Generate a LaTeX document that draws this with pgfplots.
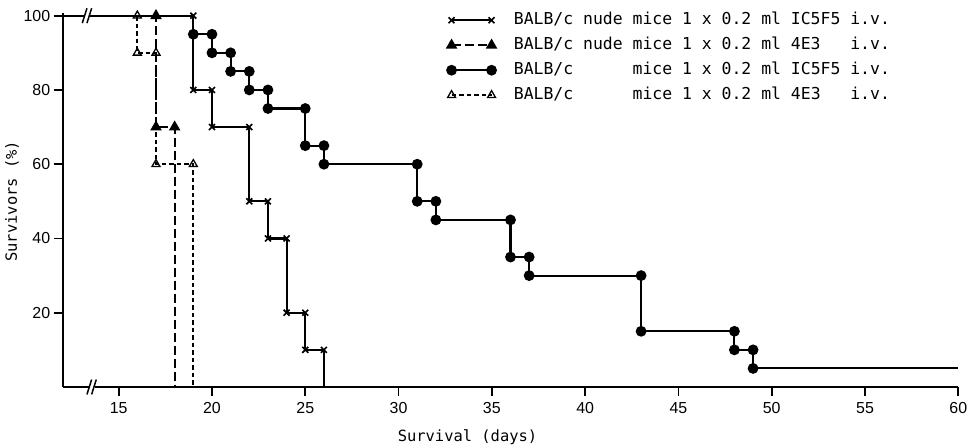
\documentclass[border=0pt]{standalone}
\usepackage{fontspec}
\setmainfont{Liberation Sans}
\newfontfamily\plotmono{DejaVu Sans Mono}
\usepackage{pgfplots}
\pgfplotsset{compat=1.18}

% survival curves: corner points of each Kaplan-Meier step line
\pgfplotstableread{
x y
12 100
19 100
19 80
20 80
20 70
22 70
22 50
23 50
23 40
24 40
24 20
25 20
25 10
26 10
26 0
}\nudeICF

\pgfplotstableread{
x y
12 100
17 100
17 70
18 70
18 0
}\nudeFourE

\pgfplotstableread{
x y
12 100
19 100
19 95
20 95
20 90
21 90
21 85
22 85
22 80
23 80
23 75
25 75
25 65
26 65
26 60
31 60
31 50
32 50
32 45
36 45
36 35
37 35
37 30
43 30
43 15
48 15
48 10
49 10
49 5
60 5
}\balbICF

\pgfplotstableread{
x y
12 100
16 100
16 90
17 90
17 60
19 60
19 0
}\balbFourE

\begin{document}
\begin{tikzpicture}[x=1bp,y=1bp]
\path[use as bounding box] (0,0) rectangle (975,447);
\begin{axis}[
  at={(62.7bp,60bp)}, anchor=south west,
  scale only axis, width=895.6bp, height=373.9bp,
  xmin=12, xmax=60, ymin=0, ymax=100.7,
  clip=false,
  axis x line=bottom, axis y line=left,
  axis line style={line width=2bp, -},
  xtick={15,20,25,30,35,40,45,50,55,60},
  ytick={20,40,60,80,100},
  tick align=outside, major tick length=9bp,
  tick style={line width=1.8bp, black},
  ticklabel style={font=\fontsize{16}{19}\selectfont},
  xticklabel style={yshift=-3bp},
  /pgf/number format/assume math mode=true,
  xlabel={Survival (days)},
  ylabel={Survivors (\%)},
  label style={font=\plotmono\fontsize{15.5}{18}\selectfont},
  x label style={at={(axis description cs:0.452,0)}, anchor=center, yshift=-50bp},
  y label style={at={(axis description cs:-0.0566,0.497)}, anchor=center},
  legend image code/.code={%
    \draw[#1, mark indices={1,2}] plot coordinates {(0bp,0bp) (40bp,0bp)};},
  legend style={at={(axis cs:32.6,100.85)}, anchor=north west, draw=none, fill=none,
    inner sep=0pt, row sep=10bp,
    font=\plotmono\fontsize{16.5}{19}\selectfont,
    nodes={inner sep=0pt, text height=12bp, text depth=3bp}},
  legend cell align=left,
]
\addplot[black, line width=2.1bp, solid, mark=x, mark size=4.2bp,
  mark options={solid, line width=1.6bp},
  mark indices={2,3,4,5,6,7,8,9,10,11,12,13,14}]
  table {\nudeICF};
\addlegendentry{\hspace{18bp}BALB/c nude mice 1 x 0.2 ml IC5F5 i.v.}
\addplot[black, line width=2.1bp, dash pattern=on 9bp off 4bp, mark=triangle*,
  mark size=4.6bp, mark options={solid, fill=black}, mark indices={2,3,4}]
  table {\nudeFourE};
\addlegendentry{\hspace{18bp}BALB/c nude mice 1 x 0.2 ml 4E3\phantom{xx} i.v.}
\addplot[black, line width=2.1bp, solid, mark=*, mark size=4.3bp,
  mark options={solid, fill=black},
  mark indices={3,4,5,6,7,8,9,10,11,12,13,14,15,16,17,18,19,20,21,22,23,24,25,26,27,28,29}]
  table {\balbICF};
\addlegendentry{\hspace{18bp}BALB/c \phantom{nude} mice 1 x 0.2 ml IC5F5 i.v.}
\addplot[black, line width=1.9bp, dash pattern=on 4.5bp off 3bp, mark=triangle,
  mark size=4.6bp, mark options={solid, fill=white, line width=1.3bp},
  mark indices={2,3,4,5,6}]
  table {\balbFourE};
\addlegendentry{\hspace{18bp}BALB/c \phantom{nude} mice 1 x 0.2 ml 4E3\phantom{xx} i.v.}

% axis breaks on the time axis and on the 100 % line
\fill[white] (axis cs:13.45,-1.2) rectangle (axis cs:13.72,1.2);
\draw[line width=1.5bp] (axis cs:13.30,-2) -- (axis cs:13.55,2);
\draw[line width=1.5bp] (axis cs:13.55,-2) -- (axis cs:13.80,2);
\fill[white] (axis cs:13.18,98.8) rectangle (axis cs:13.45,101.2);
\draw[line width=1.5bp] (axis cs:13.05,98) -- (axis cs:13.30,102);
\draw[line width=1.5bp] (axis cs:13.30,98) -- (axis cs:13.55,102);
\end{axis}
\end{tikzpicture}
\end{document}
